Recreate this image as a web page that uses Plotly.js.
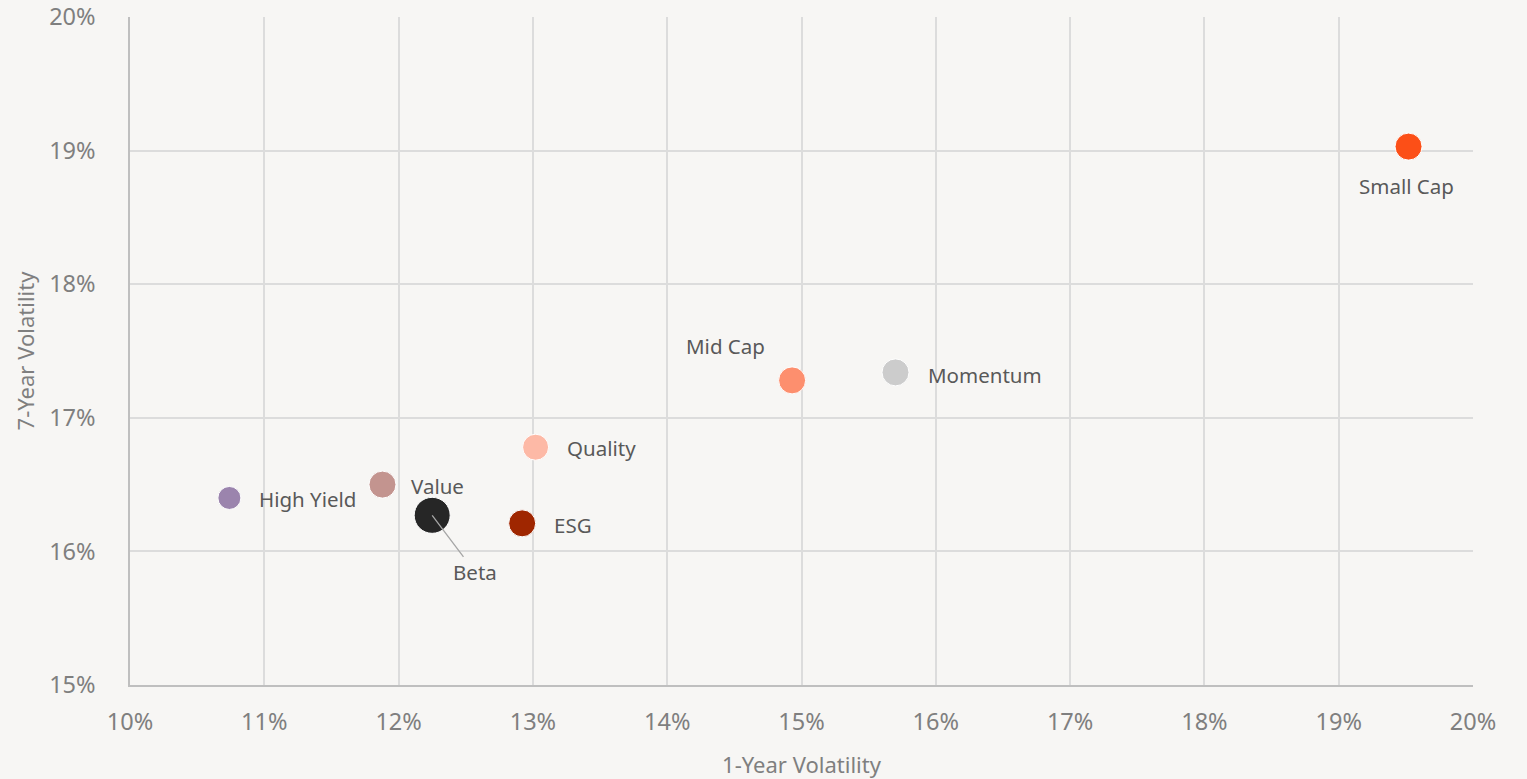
<!DOCTYPE html>
<html>
<head>
<meta charset="utf-8">
<script src="https://cdn.plot.ly/plotly-3.0.1.min.js"></script>
<style>html,body{margin:0;padding:0;background:#f7f6f4;}#chart{width:1527px;height:779px;}</style>
</head>
<body>
<div id="chart"></div>
<script>
const names = ["Small Cap", "Mid Cap", "Momentum", "Quality", "Value", "High Yield", "Beta", "ESG"];
const oneYearVol = [19.52, 14.93, 15.70, 13.02, 11.88, 10.74, 12.25, 12.92];
const sevenYearVol = [19.03, 17.28, 17.34, 16.78, 16.50, 16.40, 16.27, 16.21];
const colors = ["#fc4f17", "#fd8f6e", "#cccccc", "#fdb9a6", "#c3948f", "#9b84ad", "#262626", "#9f2600"];
const sizes = [27, 27, 27, 26, 27, 23, 36, 27];
const xTicks = [10, 11, 12, 13, 14, 15, 16, 17, 18, 19, 20];
const yTicks = [15, 16, 17, 18, 19, 20];

const labelFont = {size: 20.5, color: "#595959", family: "Noto Sans, sans-serif"};
// label placement styles
const labelStyle = {
  "Small Cap": {xanchor: "center", xshift: -2, yshift: -39},
  "Mid Cap": {xanchor: "right", xshift: -25, yshift: 34},
  "Momentum": {xanchor: "left", xshift: 30, yshift: -3},
  "Quality": {xanchor: "left", xshift: 29, yshift: -1},
  "Value": {xanchor: "left", xshift: 27, yshift: -1},
  "High Yield": {xanchor: "left", xshift: 28, yshift: -1},
  "ESG": {xanchor: "left", xshift: 30, yshift: -2},
};

const annotations = names.map((n, i) => {
  if (n === "Beta") {
    return {x: oneYearVol[i], y: sevenYearVol[i], xref: "x", yref: "y", text: n,
      showarrow: true, arrowhead: 0, arrowwidth: 1.3, arrowcolor: "#a6a6a6",
      ax: 43, ay: 57, standoff: 0, font: labelFont};
  }
  const s = labelStyle[n];
  return {x: oneYearVol[i], y: sevenYearVol[i], xref: "x", yref: "y", text: n, showarrow: false,
    xanchor: s.xanchor, yanchor: "middle", xshift: s.xshift, yshift: s.yshift,
    font: labelFont};
});

const trace = {
  type: "scatter", mode: "markers",
  x: oneYearVol, y: sevenYearVol, text: names,
  marker: {color: colors, size: sizes, opacity: 1, line: {color: "#ffffff", width: 1}},
  hoverinfo: "text"
};

const layout = {
  width: 1527, height: 779,
  paper_bgcolor: "#f7f6f4", plot_bgcolor: "#f7f6f4",
  margin: {l: 130, r: 54, t: 17, b: 94},
  showlegend: false,
  font: {family: "Noto Sans, sans-serif", color: "#7f7f7f"},
  xaxis: {
    range: [10, 20], tickvals: xTicks, ticktext: xTicks.map(v => v + "%"),
    showgrid: true, gridcolor: "#dcdcdc", gridwidth: 1.5,
    showline: true, linecolor: "#bfbfbf", linewidth: 1.5,
    zeroline: false, ticks: "", ticklabelstandoff: 15,
    tickfont: {size: 23.5, color: "#7f7f7f"},
    title: {text: "1-Year Volatility", font: {size: 22, color: "#7f7f7f"}, standoff: 22}
  },
  yaxis: {
    range: [15, 20], tickvals: yTicks, ticktext: yTicks.map(v => v + "%"),
    showgrid: true, gridcolor: "#dcdcdc", gridwidth: 1.5,
    showline: true, linecolor: "#bfbfbf", linewidth: 1.5,
    zeroline: false, ticks: "", ticklabelstandoff: 28,
    tickfont: {size: 23.5, color: "#7f7f7f"},
    title: {text: "7-Year Volatility", font: {size: 22, color: "#7f7f7f"}, standoff: 8}
  },
  annotations: annotations
};

Plotly.newPlot("chart", [trace], layout, {displayModeBar: false});
</script>
</body>
</html>
